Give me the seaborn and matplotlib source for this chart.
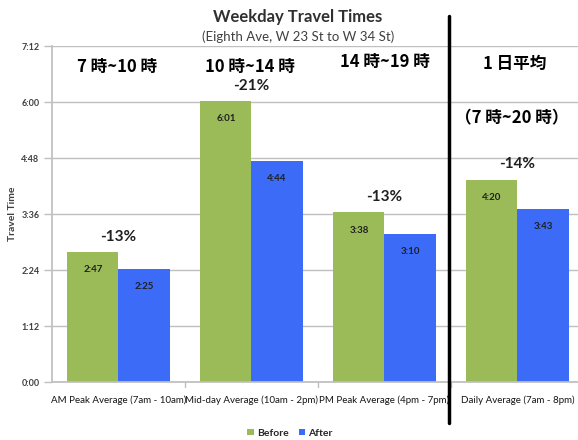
import matplotlib
matplotlib.use("Agg")
import matplotlib.pyplot as plt
import seaborn as sns
import pandas as pd

categories = ["AM Peak Average (7am - 10am)", "Mid-day Average (10am - 2pm)",
              "PM Peak Average (4pm - 7pm)", "Daily Average (7am - 8pm)"]
before_sec = [167, 361, 218, 260]
after_sec = [145, 284, 190, 223]
before_lbl = ["2:47", "6:01", "3:38", "4:20"]
after_lbl = ["2:25", "4:44", "3:10", "3:43"]
pct_labels = ["-13%", "-21%", "-13%", "-14%"]
y_ticks = [0, 72, 144, 216, 288, 360, 432]
y_tick_labels = ["0:00", "1:12", "2:24", "3:36", "4:48", "6:00", "7:12"]
jp_labels = ["7 時~10 時", "10 時~14 時", "14 時~19 時", "1 日平均"]
jp_sub = "（7 時~20 時）"
series = ["Before", "After"]

sns.set_theme(style="white")
plt.rcParams['font.family'] = ['Lato', 'DejaVu Sans']

df = pd.DataFrame({
    "cat": categories * 2,
    "series": [series[0]] * 4 + [series[1]] * 4,
    "val": before_sec + after_sec,
})

green = "#9BBB59"
blue = "#3B6BF7"

fig = plt.figure(figsize=(5.78, 4.40), dpi=100)
ax = fig.add_axes([52/578, 1-382/440, 1-52/578, 336/440])
sns.barplot(data=df, x="cat", y="val", hue="series", palette=[green, blue],
            width=0.77, gap=0, saturation=1, ax=ax, legend=True, errorbar=None,
            linewidth=0)

ax.set_ylim(0, 432)
ax.set_xlim(-0.5, 3.455)
ax.set_yticks(y_ticks)
ax.set_yticklabels(y_tick_labels, fontsize=6.5, fontweight="bold", color="#404040")
ax.yaxis.grid(True, color="#BFBFBF", linewidth=1)
ax.set_axisbelow(True)
ax.tick_params(axis="y", length=6, color="#BFBFBF", width=1, pad=3, left=True)
ax.set_xticks([0, 1, 2, 3])
ax.set_xticklabels(categories, fontsize=7, color="#151515")
ax.tick_params(axis="x", length=0, pad=10)
for xb in [0.5, 1.5, 2.5]:
    ax.plot([xb, xb], [0, -0.015], transform=ax.get_xaxis_transform(),
            color="#BFBFBF", lw=1, clip_on=False)
for s in ["top", "right"]:
    ax.spines[s].set_visible(False)
ax.spines["left"].set_color("#BFBFBF")
ax.spines["bottom"].set_color("#BFBFBF")
ax.set_xlabel("")
ax.set_ylabel("Travel Time", fontsize=7.5, fontweight="bold", color="#404040", labelpad=3)

for cont, labs in zip(ax.containers, [before_lbl, after_lbl]):
    ax.bar_label(cont, labels=labs, padding=-16, fontsize=7, fontweight="bold", color="#202020")

for i, p in enumerate(pct_labels):
    top = max(before_sec[i], after_sec[i])
    ax.annotate(p, (i, top), xytext=(0, 11), textcoords="offset points",
                ha="center", va="center", fontsize=11, fontweight="bold", color="#202020")

leg = ax.legend(loc="center", ncol=2, frameon=False, fontsize=7.5,
                handlelength=0.6, handleheight=0.6, handletextpad=0.3, columnspacing=1.0,
                bbox_to_anchor=(290/578, 1-433/440), bbox_transform=fig.transFigure)
for t in leg.get_texts():
    t.set_fontweight("bold")

fig.text(298/578, 1-17/440, "Weekday Travel Times", ha="center", va="center",
         fontsize=12, fontweight="bold", color="#303030")
fig.text(298/578, 1-37/440, "(Eighth Ave, W 23 St to W 34 St)", ha="center", va="center",
         fontsize=9.5, color="#404040")

jp_font = ['Noto Sans CJK JP', 'DejaVu Sans']
jp_pos = [(117, 67), (250, 67), (385, 62), (515, 64)]
for (x, y), t in zip(jp_pos, jp_labels):
    fig.text(x/578, 1-y/440, t, ha="center", va="center", fontsize=12,
             fontweight="bold", family=jp_font, color="black")
fig.text(512/578, 1-118/440, jp_sub, ha="center", va="center", fontsize=12,
         fontweight="bold", family=jp_font, color="black")

fig.add_artist(plt.Line2D([449/578, 449/578], [1-16/440, 1-423/440],
                          transform=fig.transFigure, color="black", lw=2.5))

fig.savefig("out.png", dpi=100)
